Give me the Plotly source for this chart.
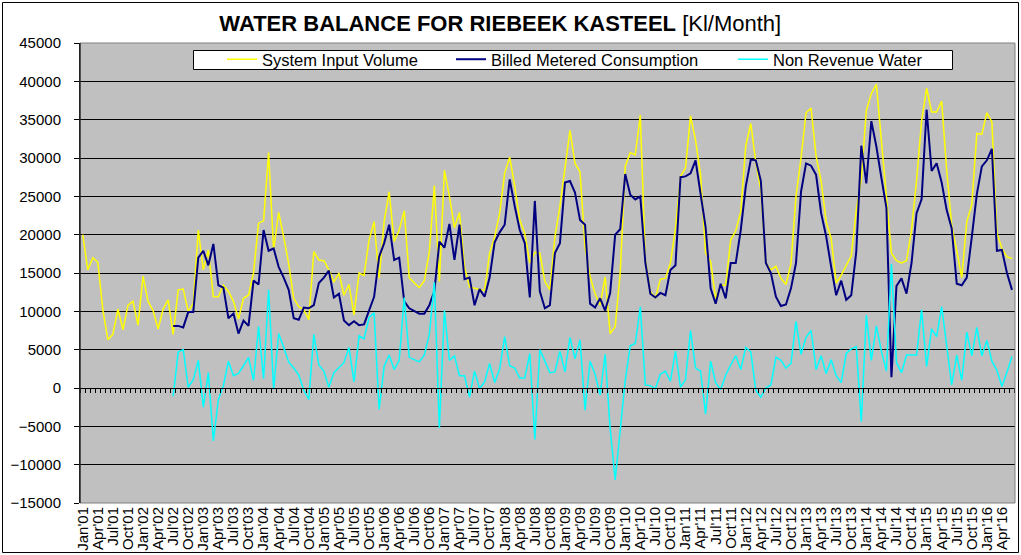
import plotly.graph_objects as go

month_abbr = ["Jan", "Feb", "Mar", "Apr", "May", "Jun", "Jul", "Aug", "Sep", "Oct", "Nov", "Dec"]
categories = [f"{m}'{y:02d}" for y in range(1, 17) for m in month_abbr][:186]
tick_labels = categories[::3]

system_input_volume = [
    20000, 15400, 17000, 16400, 10200, 6300, 7000, 10300, 7600, 10800, 11300, 8200,
    14600, 11300, 10100, 7700, 10300, 11500, 7000, 12800, 12900, 10000, 11000, 20600,
    15400, 18000, 11900, 11900, 13400, 12600, 11300, 9000, 11700, 12100, 15000, 21500,
    21800, 30700, 18000, 22900, 19700, 16200, 11700, 10600, 10200, 8900, 17800, 16700,
    16600, 15400, 13800, 15000, 12100, 13500, 9500, 15000, 14700, 19300, 21700, 14300,
    21700, 25600, 19100, 20600, 23100, 14400, 13700, 13100, 14000, 17800, 26400, 13900,
    28400, 25000, 20900, 22900, 15800, 13200, 13000, 12800, 12700, 17600, 19700, 22800,
    28000, 30100, 26300, 21900, 20200, 16300, 17700, 17600, 13900, 12800, 19700, 23700,
    28900, 33600, 29300, 28200, 18400, 14500, 12300, 10800, 14500, 7100, 8000, 15000,
    28900, 30700, 30400, 35600, 16800, 12600, 11700, 14200, 14300, 16300, 20800, 27600,
    28700, 35500, 32300, 27800, 17600, 16500, 11700, 13400, 13400, 19300, 20500, 23000,
    31600, 34500, 29400, 25800, 16300, 15400, 15900, 14300, 13500, 16200, 25000, 30000,
    35900, 36500, 30200, 27000, 21700, 19500, 13700, 14700, 16000, 17200, 23200, 27200,
    36200, 38400, 39600, 32200, 25700, 17600, 16600, 16300, 16600, 20600, 27100, 34800,
    39100, 36000, 36000, 37400, 28400, 21200, 17900, 14400, 21700, 23900, 33200, 33100,
    35900, 34700, 20200, 18200, 17100, 16900,
]

billed_metered_consumption = [None] * 18 + [
    8100, 8100, 7900, 9900, 9900, 17000,
    17900, 16000, 18800, 13400, 13100, 9100, 9700, 7100, 8800, 8100, 14000, 13500,
    20600, 17900, 18200, 15800, 14400, 12800, 9100, 8900, 10500, 10400, 10800, 13700,
    14400, 15300, 11800, 12300, 8800, 8200, 8700, 8200, 8300, 10100, 11900, 17100,
    18900, 21300, 16700, 17000, 11300, 10400, 10000, 9700, 9700, 10800, 12600, 19100,
    18300, 21400, 16700, 21300, 14200, 14400, 10800, 12900, 11900, 14400, 19000, 20300,
    21300, 27200, 23700, 20600, 18900, 11800, 24400, 12600, 10400, 10800, 17600, 18900,
    26800, 27000, 25500, 21900, 21300, 11000, 10500, 11700, 10100, 12400, 20000, 20700,
    27900, 25200, 24600, 25000, 16400, 12300, 11800, 12400, 12100, 15400, 16000, 27500,
    27600, 28000, 29700, 25600, 21000, 13000, 11000, 13600, 11700, 16300, 16300, 20600,
    26300, 29800, 29700, 27000, 16300, 15000, 11900, 10700, 10900, 13000, 16300, 25600,
    29300, 29000, 27800, 22800, 19800, 15800, 12100, 14000, 11500, 12100, 17800, 31600,
    26700, 34800, 31500, 27400, 23500, 1400, 13300, 14300, 12300, 16300, 22800, 24600,
    36300, 28300, 29300, 26800, 23200, 20800, 13600, 13400, 14400, 19700, 25300, 28900,
    29700, 31200, 17900, 18000, 15000, 12800,
]

non_revenue_water = [None] * 18 + [
    -1100, 4700, 5000, 100, 1100, 3600,
    -2500, 2000, -6900, -1500, 300, 3500, 1600, 1900, 2900, 4000, 1000, 8000,
    1200, 12800, -200, 7100, 5300, 3400, 2600, 1700, -300, -1500, 7000, 3000,
    2200, 100, 2000, 2700, 3300, 5300, 800, 6800, 6400, 9200, 9800, -2800,
    2800, 4300, 2400, 3600, 11800, 4000, 3700, 3400, 4300, 7000, 13800, -5200,
    10100, 3600, 4200, 1600, 1600, -1200, 2200, -100, 800, 3200, 700, 2500,
    6700, 2900, 2600, 1300, 1300, 4500, -6700, 5000, 3500, 2000, 2100, 4800,
    2100, 6600, 3800, 6300, -2900, 3500, 1800, -900, 4400, -5300, -12000, -5700,
    1000, 5500, 5800, 10600, 400, 300, -100, 1800, 2200, 900, 4800, 100,
    1100, 7500, 2600, 2200, -3400, 3500, 700, -200, 1700, 3000, 4200, 2400,
    5300, 4700, -300, -1200, 0, 400, 4000, 3600, 2600, 3200, 8700, 4400,
    6600, 7500, 2400, 4200, 1900, 3700, 1600, 700, 4500, 5100, 5400, -4400,
    9500, 3600, 8100, 4800, 2200, 16200, 3300, 2000, 4300, 4300, 4300, 10200,
    2800, 7700, 6700, 10600, 5200, 400, 4300, 1000, 7300, 4200, 7900, 4200,
    6200, 3500, 2300, 200, 2100, 4100,
]

series_names = ["System Input Volume", "Billed Metered Consumption", "Non Revenue Water"]
series_colors = ["#FFFF00", "#000080", "#00FFFF"]
series_widths = [1.5, 2, 1.5]
series_values = [system_input_volume, billed_metered_consumption, non_revenue_water]
legend_ids = ["legend", "legend2", "legend3"]

FONT = "Liberation Sans, Arial, sans-serif"

W, H = 1021, 555
ML, MR, MT, MB = 80, 6, 43, 52
PW, PH = W - ML - MR, H - MT - MB


def px_x(px):
    return (px - ML) / PW


def px_y(py):
    return (H - MB - py) / PH


fig = go.Figure()
for name, color, width, vals, lg in zip(series_names, series_colors, series_widths,
                                         series_values, legend_ids):
    fig.add_trace(go.Scatter(
        x=categories, y=vals, mode="lines", name=name, legend=lg,
        line=dict(color=color, width=width), connectgaps=False,
    ))

# invisible helper trace so the zero-crossing category axis (with monthly tick marks) is drawn
fig.add_trace(go.Scatter(
    x=categories, y=[None] * len(categories), xaxis="x2", yaxis="y",
    mode="lines", showlegend=False, hoverinfo="skip",
))

x_range = [-0.55, 185.6]

legend_common = dict(
    orientation="h", xanchor="left", yanchor="middle", y=px_y(59.5),
    bgcolor="rgba(0,0,0,0)", borderwidth=0,
    font=dict(family=FONT, size=16.5, color="black"),
)
legend_text_x = [264, 493, 775]

fig.update_layout(
    width=W, height=H,
    margin=dict(l=ML, r=MR, t=MT, b=MB, autoexpand=False),
    paper_bgcolor="white",
    plot_bgcolor="#C0C0C0",
    font=dict(family=FONT, color="black"),
    title=dict(
        text="<b>WATER BALANCE FOR RIEBEEK KASTEEL</b> [Kl/Month]",
        x=0.49, xanchor="center", y=0.958, yanchor="middle",
        font=dict(family=FONT, size=22, color="black"),
    ),
    legend=dict(legend_common, x=px_x(legend_text_x[0] - 42)),
    legend2=dict(legend_common, x=px_x(legend_text_x[1] - 42)),
    legend3=dict(legend_common, x=px_x(legend_text_x[2] - 42)),
    xaxis=dict(
        type="category", range=x_range,
        tickmode="array", tickvals=tick_labels, ticktext=tick_labels,
        tickangle=-90, tickfont=dict(family=FONT, size=15, color="black"),
        showgrid=False, showline=False, ticks="", zeroline=False,
    ),
    xaxis2=dict(
        type="category", overlaying="x", anchor="free", position=0.25,
        range=x_range, showticklabels=False, ticks="outside", ticklen=4,
        tickcolor="black", tickwidth=1, tickson="boundaries",
        tickmode="linear", dtick=1,
        showline=True, linecolor="black", linewidth=1, showgrid=False, zeroline=False,
    ),
    yaxis=dict(
        range=[-15000, 45000], dtick=5000, tickformat="d",
        showgrid=True, gridcolor="black", gridwidth=1,
        zeroline=True, zerolinecolor="black", zerolinewidth=1,
        showline=True, linecolor="black", linewidth=1,
        ticks="outside", ticklen=5, tickcolor="black", ticklabelstandoff=10,
        tickfont=dict(family=FONT, size=15, color="black"),
    ),
    shapes=[
        dict(type="rect", xref="paper", yref="paper", x0=0, x1=1, y0=0, y1=1,
             line=dict(color="#808080", width=1), layer="above"),
        dict(type="line", xref="paper", yref="paper", x0=0, x1=0, y0=0, y1=1,
             line=dict(color="black", width=1), layer="above"),
        # legend frame
        dict(type="rect", xref="paper", yref="paper",
             x0=px_x(193.5), x1=px_x(952.5), y0=px_y(69.5), y1=px_y(50.5),
             fillcolor="white", line=dict(color="black", width=1), layer="above"),
        # chart outer frame
        dict(type="rect", xref="paper", yref="paper",
             x0=px_x(2.5), x1=px_x(1018.5), y0=px_y(552.5), y1=px_y(2.5),
             line=dict(color="black", width=1), layer="above"),
    ],
)

fig.write_html(
    "out.html",
    config={"displayModeBar": False},
    post_script="document.body.style.margin='0px';document.body.style.overflow='hidden';",
)
